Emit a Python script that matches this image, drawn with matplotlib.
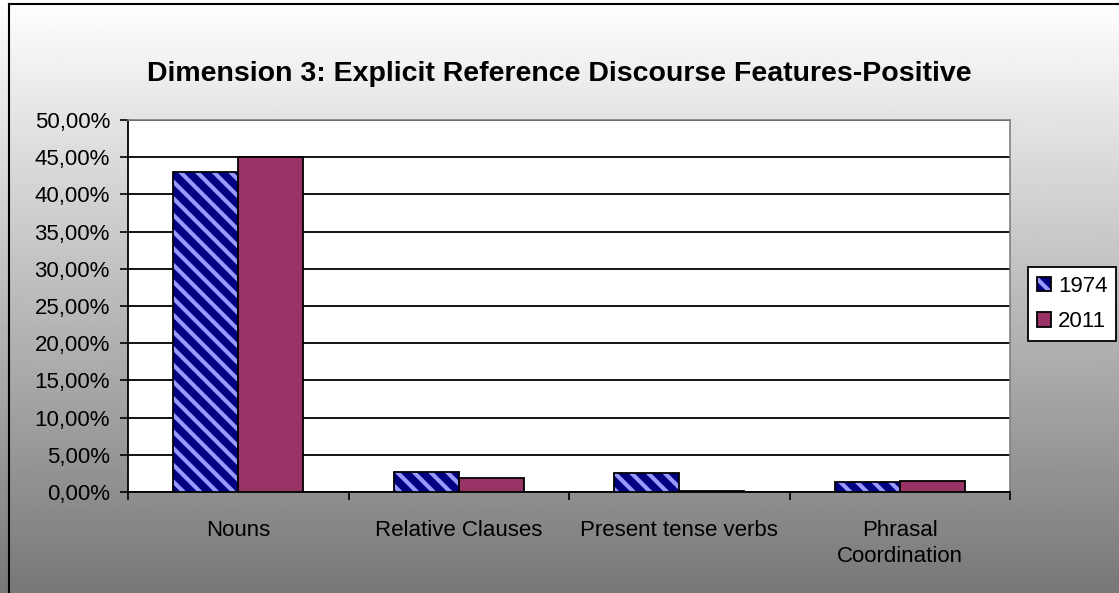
import numpy as np
import matplotlib.pyplot as plt
from matplotlib.lines import Line2D
from matplotlib.ticker import FuncFormatter, FixedLocator

categories = ["Nouns", "Relative Clauses", "Present tense verbs", "Phrasal\nCoordination"]
years = ["1974", "2011"]
share_1974 = [0.430, 0.027, 0.026, 0.013]
share_2011 = [0.450, 0.019, 0.002, 0.015]

plt.rcParams["font.family"] = ["Liberation Sans", "DejaVu Sans"]
plt.rcParams["hatch.linewidth"] = 5.5

fig = plt.figure(figsize=(11.19, 5.93), dpi=100)

# gradient backdrop, white at the top fading to grey
bg = fig.add_axes([0, 0, 1, 1], zorder=-10)
grad = np.linspace(1.0, 0.47, 256).reshape(-1, 1)
bg.imshow(grad, aspect="auto", cmap="gray", vmin=0, vmax=1, extent=[0, 1, 0, 1])
bg.axis("off")

# chart frame (left and top edges)
fig.add_artist(Line2D([9 / 1119, 9 / 1119], [0, 1 - 4 / 593], color="black", lw=1.5, transform=fig.transFigure))
fig.add_artist(Line2D([9 / 1119, 1], [1 - 4 / 593, 1 - 4 / 593], color="black", lw=1.5, transform=fig.transFigure))

ax = fig.add_axes([128 / 1119, 1 - 492 / 593, (1010 - 128) / 1119, (492 - 120) / 593])
ax.set_facecolor("white")

x = np.arange(len(categories))
w = 0.295
# hatched fill in navy, black outline drawn on top
hatched = ax.bar(x - w / 2, share_1974, w, color="#9999FF", edgecolor="#000080", linewidth=0,
                 hatch="\\\\", zorder=3)
outline = ax.bar(x - w / 2, share_1974, w, fill=False, edgecolor="black", linewidth=1.3, zorder=4)
solid = ax.bar(x + w / 2, share_2011, w, color="#993366", edgecolor="black", linewidth=1.3, zorder=3)

ax.set_xlim(-0.5, len(categories) - 0.5)
ax.set_ylim(0, 0.5)
ax.set_yticks(np.arange(0, 0.501, 0.05))
ax.yaxis.set_major_formatter(FuncFormatter(lambda v, _: f"{v * 100:.2f}%".replace(".", ",")))
ax.yaxis.grid(True, color="black", linewidth=1.3, zorder=0)
ax.set_axisbelow(True)

ax.set_xticks(x)
ax.set_xticklabels(categories, linespacing=1.3)
ax.xaxis.set_minor_locator(FixedLocator(np.arange(-0.5, len(categories), 1.0)))
ax.tick_params(axis="x", which="major", length=0, pad=20.5, labelsize=16)
ax.tick_params(axis="x", which="minor", length=6, width=1.2, direction="out")
ax.tick_params(axis="y", length=6, width=1.2, direction="out", pad=7, labelsize=16)

for side in ["top", "right"]:
    ax.spines[side].set_color("#808080")
    ax.spines[side].set_linewidth(1.2)
for side in ["left", "bottom"]:
    ax.spines[side].set_color("black")
    ax.spines[side].set_linewidth(1.3)

fig.text(0.5, 1 - 74 / 593, "Dimension 3: Explicit Reference Discourse Features-Positive",
         ha="center", va="center", fontsize=20.5, fontweight="bold")

leg = fig.legend([(hatched[0], outline[0]), solid[0]], years,
                 loc="center left", bbox_to_anchor=(1028 / 1119, 1 - 304 / 593),
                 fontsize=16, fancybox=False, framealpha=1, edgecolor="black",
                 handlelength=0.65, handleheight=0.65, handletextpad=0.3,
                 borderpad=0.4, labelspacing=0.65, borderaxespad=0)
leg.get_frame().set_linewidth(1.3)

fig.savefig("out.png", dpi=100)
